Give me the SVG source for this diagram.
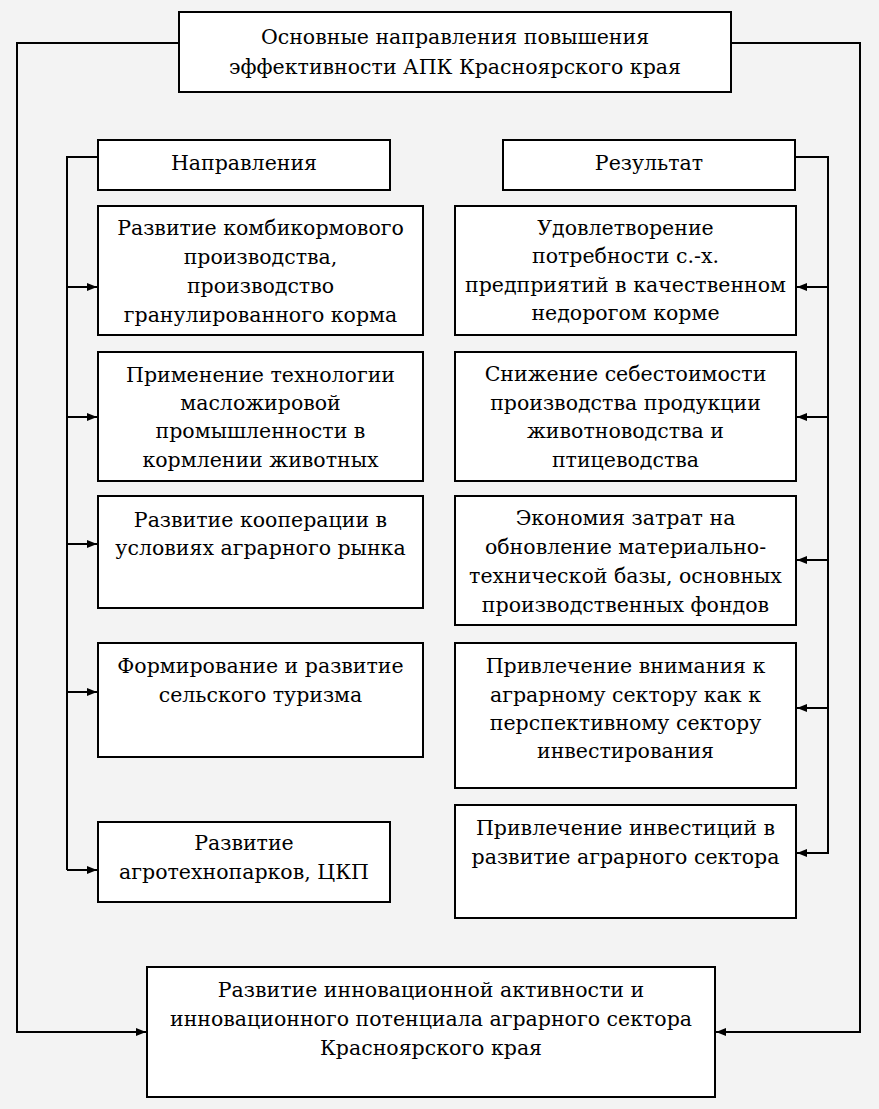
<svg xmlns="http://www.w3.org/2000/svg" width="879" height="1109" viewBox="0 0 879 1109">
<defs>
<style>
.bg{fill:#f3f3f3}
.box{fill:#ffffff;stroke:#000;stroke-width:2}
.ln{fill:none;stroke:#000;stroke-width:2}
text{font-family:"DejaVu Serif",serif;font-size:20.5px;fill:#000;text-anchor:middle}
</style>
<marker id="ah" viewBox="0 0 10 8" refX="10" refY="4" markerWidth="10" markerHeight="8" markerUnits="userSpaceOnUse" orient="auto">
<path d="M0,0 L10,4 L0,8 z" fill="#000"/>
</marker>
</defs>
<rect class="bg" x="0" y="0" width="879" height="1109"/>
<g id="connectors">
<polyline class="ln" points="179,43 17,43 17,1032 146,1032" marker-end="url(#ah)"/>
<polyline class="ln" points="731,43 860,43 860,1032 716,1032" marker-end="url(#ah)"/>
<polyline class="ln" points="98,157 67,157 67,870"/>
<line class="ln" x1="67" y1="287" x2="97" y2="287" marker-end="url(#ah)"/>
<line class="ln" x1="67" y1="417" x2="97" y2="417" marker-end="url(#ah)"/>
<line class="ln" x1="67" y1="544" x2="97" y2="544" marker-end="url(#ah)"/>
<line class="ln" x1="67" y1="692" x2="97" y2="692" marker-end="url(#ah)"/>
<line class="ln" x1="67" y1="870" x2="97" y2="870" marker-end="url(#ah)"/>
<polyline class="ln" points="795,157 828,157 828,853 797,853" marker-end="url(#ah)"/>
<line class="ln" x1="828" y1="287" x2="797" y2="287" marker-end="url(#ah)"/>
<line class="ln" x1="828" y1="417" x2="797" y2="417" marker-end="url(#ah)"/>
<line class="ln" x1="828" y1="560" x2="797" y2="560" marker-end="url(#ah)"/>
<line class="ln" x1="828" y1="708" x2="797" y2="708" marker-end="url(#ah)"/>
</g>
<g id="top">
<rect class="box" x="179" y="12" width="552" height="80"/>
<text x="455" y="44">Основные направления повышения</text>
<text x="455" y="74">эффективности АПК Красноярского края</text>
</g>
<g id="napr">
<rect class="box" x="98" y="140" width="292" height="50"/>
<text x="244" y="170">Направления</text>
</g>
<g id="rez">
<rect class="box" x="503" y="140" width="292" height="50"/>
<text x="649" y="170">Результат</text>
</g>
<g id="l1">
<rect class="box" x="98" y="206" width="325" height="129"/>
<text x="260.5" y="235">Развитие комбикормового</text>
<text x="260.5" y="264">производства,</text>
<text x="260.5" y="293">производство</text>
<text x="260.5" y="322">гранулированного корма</text>
</g>
<g id="l2">
<rect class="box" x="98" y="352" width="325" height="129"/>
<text x="260.5" y="382">Применение технологии</text>
<text x="260.5" y="410">масложировой</text>
<text x="260.5" y="438">промышленности в</text>
<text x="260.5" y="467">кормлении животных</text>
</g>
<g id="l3">
<rect class="box" x="98" y="496" width="325" height="112"/>
<text x="260.5" y="527">Развитие кооперации в</text>
<text x="260.5" y="555">условиях аграрного рынка</text>
</g>
<g id="l4">
<rect class="box" x="98" y="643" width="325" height="114"/>
<text x="260.5" y="673">Формирование и развитие</text>
<text x="260.5" y="702">сельского туризма</text>
</g>
<g id="l5">
<rect class="box" x="98" y="822" width="292" height="80"/>
<text x="244" y="850">Развитие</text>
<text x="244" y="879">агротехнопарков, ЦКП</text>
</g>
<g id="r1">
<rect class="box" x="455" y="206" width="341" height="129"/>
<text x="625.5" y="235">Удовлетворение</text>
<text x="625.5" y="263">потребности с.-х.</text>
<text x="625.5" y="292">предприятий в качественном</text>
<text x="625.5" y="320">недорогом корме</text>
</g>
<g id="r2">
<rect class="box" x="455" y="352" width="341" height="129"/>
<text x="625.5" y="381">Снижение себестоимости</text>
<text x="625.5" y="410">производства продукции</text>
<text x="625.5" y="438">животноводства и</text>
<text x="625.5" y="467">птицеводства</text>
</g>
<g id="r3">
<rect class="box" x="455" y="496" width="341" height="129"/>
<text x="625.5" y="525">Экономия затрат на</text>
<text x="625.5" y="554">обновление материально-</text>
<text x="625.5" y="583">технической базы, основных</text>
<text x="625.5" y="612">производственных фондов</text>
</g>
<g id="r4">
<rect class="box" x="455" y="643" width="341" height="145"/>
<text x="625.5" y="673">Привлечение внимания к</text>
<text x="625.5" y="702">аграрному сектору как к</text>
<text x="625.5" y="730">перспективному сектору</text>
<text x="625.5" y="758">инвестирования</text>
</g>
<g id="r5">
<rect class="box" x="455" y="805" width="341" height="113"/>
<text x="625.5" y="835">Привлечение инвестиций в</text>
<text x="625.5" y="864">развитие аграрного сектора</text>
</g>
<g id="bottom">
<rect class="box" x="147" y="967" width="568" height="130"/>
<text x="431" y="997">Развитие инновационной активности и</text>
<text x="431" y="1026">инновационного потенциала аграрного сектора</text>
<text x="431" y="1055">Красноярского края</text>
</g>
</svg>
